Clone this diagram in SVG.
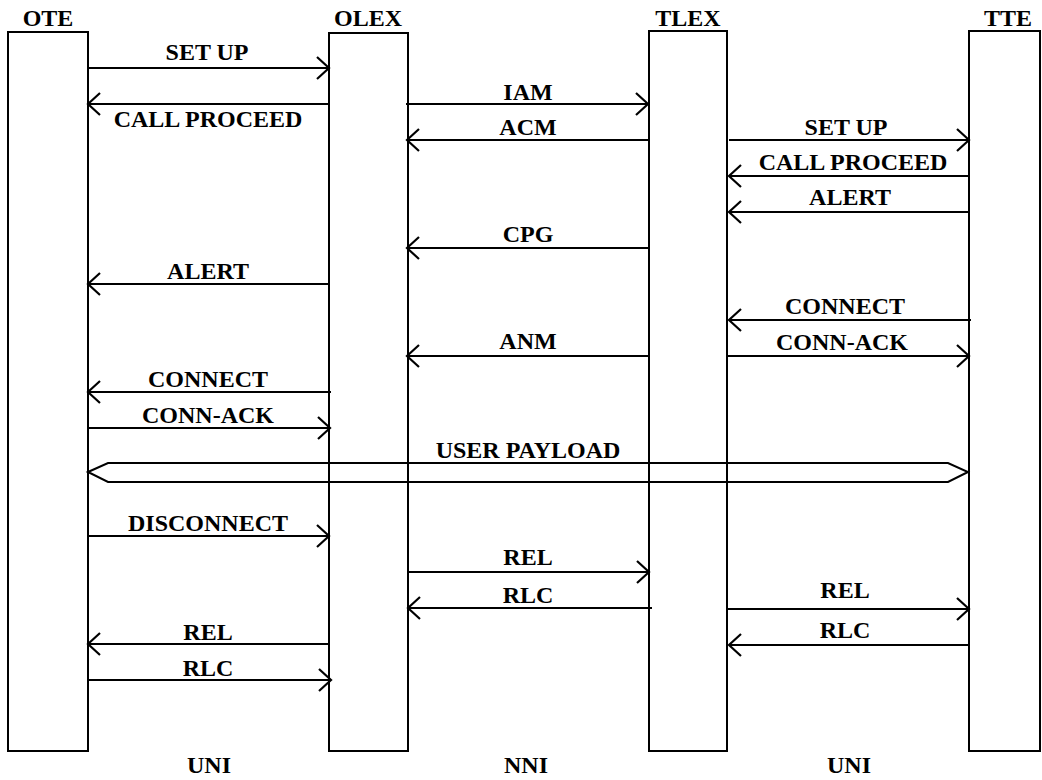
<svg xmlns="http://www.w3.org/2000/svg" width="1042" height="780" viewBox="0 0 1042 780">
<style>
.box{fill:none;stroke:#000;stroke-width:2}
.ln{fill:none;stroke:#000;stroke-width:2.2;marker-end:url(#ah)}
.pl{fill:none;stroke:#000;stroke-width:2}
text{font-family:"Liberation Serif","Times New Roman",serif;font-weight:bold;font-size:24px;fill:#000;text-anchor:middle}
</style>
<defs>
<marker id="ah" markerUnits="userSpaceOnUse" markerWidth="16" markerHeight="26" refX="13" refY="12" orient="auto" viewBox="0 0 16 26">
<path d="M1,1 L13,12 L1,23" fill="none" stroke="#000" stroke-width="2.2"/>
</marker>
</defs>
<rect width="1042" height="780" fill="#fff"/>
<g id="OTE"><rect class="box" x="8" y="32" width="80" height="719"/><text x="48" y="26">OTE</text></g>
<g id="OLEX"><rect class="box" x="329" y="33" width="79" height="718"/><text x="368" y="26">OLEX</text></g>
<g id="TLEX"><rect class="box" x="649" y="31" width="78" height="720"/><text x="688" y="26">TLEX</text></g>
<g id="TTE"><rect class="box" x="969" y="31" width="71" height="720"/><text x="1008" y="26">TTE</text></g>
<g id="connectors">
<line class="ln" x1="88" y1="68" x2="329" y2="68"/>
<line class="ln" x1="329" y1="104" x2="88" y2="104"/>
<line class="ln" x1="406" y1="104" x2="648" y2="104"/>
<line class="ln" x1="649" y1="140" x2="407" y2="140"/>
<line class="ln" x1="729" y1="140" x2="969" y2="140"/>
<line class="ln" x1="969" y1="176" x2="729" y2="176"/>
<line class="ln" x1="969" y1="212" x2="729" y2="212"/>
<line class="ln" x1="649" y1="248" x2="407" y2="248"/>
<line class="ln" x1="329" y1="284" x2="88" y2="284"/>
<line class="ln" x1="971" y1="320" x2="729" y2="320"/>
<line class="ln" x1="649" y1="356" x2="407" y2="356"/>
<line class="ln" x1="727" y1="356" x2="969" y2="356"/>
<line class="ln" x1="331" y1="392" x2="88" y2="392"/>
<line class="ln" x1="88" y1="428" x2="330" y2="428"/>
<polygon class="pl" points="88,472 108,463 948,463 968,472 948,482 108,482"/>
<line class="ln" x1="88" y1="536" x2="329" y2="536"/>
<line class="ln" x1="408" y1="572" x2="649" y2="572"/>
<line class="ln" x1="652" y1="608" x2="408" y2="608"/>
<line class="ln" x1="727" y1="609" x2="969" y2="609"/>
<line class="ln" x1="969" y1="645" x2="729" y2="645"/>
<line class="ln" x1="329" y1="644" x2="88" y2="644"/>
<line class="ln" x1="88" y1="680" x2="331" y2="680"/>
</g>
<g id="labels">
<text x="207" y="60">SET UP</text>
<text x="208" y="127">CALL PROCEED</text>
<text x="528" y="100">IAM</text>
<text x="528" y="135">ACM</text>
<text x="846" y="135">SET UP</text>
<text x="853" y="170">CALL PROCEED</text>
<text x="850" y="205">ALERT</text>
<text x="528" y="242">CPG</text>
<text x="208" y="279">ALERT</text>
<text x="845" y="314">CONNECT</text>
<text x="528" y="349">ANM</text>
<text x="842" y="350">CONN-ACK</text>
<text x="208" y="387">CONNECT</text>
<text x="208" y="423">CONN-ACK</text>
<text x="528" y="458">USER PAYLOAD</text>
<text x="208" y="531">DISCONNECT</text>
<text x="528" y="565">REL</text>
<text x="528" y="603">RLC</text>
<text x="845" y="598">REL</text>
<text x="845" y="638">RLC</text>
<text x="208" y="640">REL</text>
<text x="208" y="676">RLC</text>
<text x="209" y="773">UNI</text>
<text x="526" y="773">NNI</text>
<text x="849" y="773">UNI</text>
</g>
</svg>
